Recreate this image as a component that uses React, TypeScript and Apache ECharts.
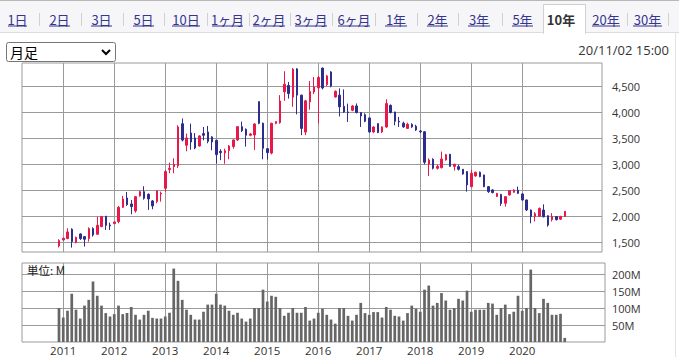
import React, { useEffect, useRef } from 'react';
import * as echarts from 'echarts';

// Monthly bars, Dec 2010 .. Nov 2020
const months: string[] = Array.from({ length: 120 }, (_, i) => {
  const m = 11 + i;
  const y = 2010 + Math.floor(m / 12);
  return `${y}-${String((m % 12) + 1).padStart(2, '0')}`;
});

const opens = [
  1430, 1545, 1571, 1750, 1494, 1660, 1609, 1571, 1763, 1654, 1801, 2000, 1830,
  1859, 1897, 2173, 2353, 2237, 2103, 2391, 2474, 2423, 2295, 2282, 2430,
  2538, 2900, 2955, 2970, 3780, 3365, 3602, 3506, 3352, 3590, 3622, 3526,
  3461, 3250, 3220, 3263, 3340, 3468, 3724, 3673, 3558, 3564, 4205, 3790,
  3300, 3215, 3788, 3801, 4395, 4515, 4290, 4835, 4330, 3620, 4200, 4391,
  4470, 4850, 4532, 4776, 4295, 4330, 4115, 4006, 4038, 4122, 3994, 3955,
  3891, 3622, 3782, 3622, 3718, 4134, 4006, 3827, 3790, 3690, 3765, 3730,
  3640, 3625, 3006, 3096, 2923, 2935, 3083, 3192, 2960, 2955, 2904, 2859,
  2570, 2776, 2846, 2795, 2570, 2506, 2380, 2420, 2250, 2410, 2462, 2500,
  2430, 2314, 2120, 2000, 2000, 2120, 2010, 1935, 1995, 1945, 1995,
];
const closes = [
  1532, 1577, 1699, 1513, 1596, 1571, 1558, 1763, 1641, 1827, 1994, 1827, 1814,
  1891, 2173, 2333, 2224, 2186, 2378, 2474, 2346, 2333, 2199, 2487, 2442,
  2859, 2923, 3000, 3718, 3465, 3506, 3429, 3314, 3545, 3558, 3442, 3429,
  3186, 3224, 3260, 3352, 3468, 3724, 3647, 3558, 3583, 3776, 3788, 3308,
  3224, 3788, 3820, 4218, 4540, 4360, 4830, 4330, 3690, 4220, 4400, 4487,
  4670, 4468, 4699, 4506, 4404, 4105, 4005, 3994, 4122, 3994, 3929, 3827,
  3622, 3718, 3609, 3718, 4167, 3994, 3827, 3814, 3720, 3770, 3720, 3660,
  3625, 3040, 3083, 2923, 2960, 3100, 3185, 2960, 3000, 2904, 2814, 2603,
  2827, 2846, 2763, 2570, 2474, 2455, 2440, 2245, 2378, 2494, 2506, 2442,
  2314, 2122, 1994, 2050, 2150, 1990, 1830, 1995, 1935, 1995, 2095,
];
const lows = [
  1400, 1530, 1560, 1397, 1481, 1545, 1417, 1513, 1609, 1640, 1790, 1737, 1737,
  1850, 1865, 2160, 2200, 2038, 2070, 2380, 2320, 2122, 2135, 2250, 2282,
  2474, 2827, 2827, 2930, 3440, 3250, 3280, 3290, 3340, 3461, 3404, 3270,
  3013, 3080, 3010, 3096, 3300, 3450, 3620, 3340, 3540, 3276, 3770, 3096,
  3090, 3190, 3770, 3780, 4220, 4263, 4105, 3960, 3560, 3560, 4050, 4350,
  3785, 4440, 4500, 4480, 4280, 3920, 3990, 3814, 4020, 3980, 3718, 3810,
  3610, 3600, 3600, 3600, 3700, 3980, 3750, 3718, 3700, 3680, 3700, 3640,
  3600, 3000, 2776, 2900, 2900, 2920, 3070, 2950, 2880, 2880, 2800, 2474,
  2560, 2760, 2750, 2560, 2450, 2440, 2370, 2200, 2186, 2400, 2450, 2430,
  2300, 2100, 1865, 1900, 1990, 1980, 1800, 1900, 1920, 1930, 1990,
];
const highs = [
  1558, 1590, 1769, 1769, 1609, 1673, 1620, 1788, 1788, 1994, 2006, 2006, 1878,
  1900, 2199, 2391, 2468, 2314, 2391, 2494, 2577, 2440, 2314, 2500, 2474,
  2891, 3032, 3115, 3750, 3880, 3590, 3782, 3600, 3560, 3718, 3737, 3540,
  3470, 3290, 3300, 3370, 3480, 3730, 3820, 3690, 3600, 3790, 4210, 3800,
  3310, 3800, 3830, 4330, 4790, 4583, 4850, 4850, 4340, 4240, 4600, 4680,
  4700, 4860, 4720, 4790, 4420, 4460, 4440, 4167, 4140, 4170, 4000, 3980,
  3900, 3730, 3790, 3730, 4250, 4150, 4010, 3910, 3820, 3800, 3790, 3760,
  3660, 3640, 3115, 3115, 2990, 3244, 3200, 3200, 3010, 2990, 2910, 2870,
  2891, 2860, 2860, 2800, 2580, 2520, 2450, 2430, 2390, 2500, 2520, 2570,
  2440, 2320, 2130, 2080, 2170, 2230, 2020, 2060, 2000, 2010, 2100,
];
// volume, millions of shares
const volumes = [
  100, 72, 92, 142, 95, 69, 107, 124, 178, 136, 107, 85, 75,
  82, 107, 82, 85, 103, 80, 66, 80, 92, 71, 69, 69,
  75, 86, 216, 180, 124, 95, 80, 66, 66, 89, 110, 110,
  142, 110, 107, 92, 80, 86, 69, 60, 69, 100, 100, 154,
  119, 136, 133, 100, 77, 86, 100, 86, 86, 103, 63, 69,
  86, 98, 80, 66, 54, 100, 100, 77, 63, 80, 115, 85,
  80, 88, 88, 72, 103, 95, 77, 75, 63, 85, 107, 98,
  89, 154, 166, 107, 115, 144, 122, 95, 100, 127, 122, 151,
  89, 95, 95, 95, 115, 113, 80, 100, 110, 82, 89, 136,
  92, 100, 213, 100, 85, 127, 115, 80, 80, 83, 12,
];

const yearLabels = ['2011', '2012', '2013', '2014', '2015', '2016', '2017', '2018', '2019', '2020'];
const yearTicks = yearLabels.map((y) => months.indexOf(`${y}-01`));
const priceTicks = [1500, 2000, 2500, 3000, 3500, 4000, 4500];
const volumeTicks = [50, 100, 150, 200];

const tabLabels = ['1日', '2日', '3日', '5日', '10日', '1ヶ月', '2ヶ月', '3ヶ月', '6ヶ月', '1年', '2年', '3年', '5年', '10年', '20年', '30年'];
const activeTab = '10年';
const periodLabel = '月足';
const timestamp = '20/11/02 15:00';
const unitLabel = '単位: M';

// layout of the page chrome (pixels)
const tabSpans = [
  [8, 27], [49, 70], [91, 112], [133, 154], [172, 200], [212, 243], [253, 285], [295, 327],
  [338, 370], [385, 407], [427, 448], [468, 490], [512, 533], [549, 573], [592, 620], [633, 662],
];
const sepXs = [39, 81, 123, 164, 207, 249, 290, 332, 375, 417, 458, 502, 627, 668];

const FONT_NUM = '"Open Sans", "DejaVu Sans", sans-serif';
const FONT_JP = '"Noto Sans CJK JP", "Noto Sans", sans-serif';
const UP = '#e8184b';
const DOWN = '#2d2d8c';
const GRID = '#9a9a9a';
const LINK = '#35358f';

export default function App() {
  const ref = useRef<HTMLDivElement>(null);
  useEffect(() => {
    if (!ref.current) return;
    const chart = echarts.init(ref.current, undefined, { renderer: 'svg' });

    const graphics: any[] = [];
    graphics.push({ type: 'rect', z: 0, shape: { x: 0, y: 0, width: 679, height: 32 }, style: { fill: '#f6f6f9' } });
    graphics.push({ type: 'line', shape: { x1: 0, y1: 0.5, x2: 679, y2: 0.5 }, style: { stroke: '#b8b8b8', lineWidth: 1 } });
    graphics.push({ type: 'line', shape: { x1: 0, y1: 32.5, x2: 679, y2: 32.5 }, style: { stroke: '#dcdcdc', lineWidth: 1 } });
    sepXs.forEach((x) => {
      graphics.push({ type: 'line', shape: { x1: x + 0.5, y1: 13, x2: x + 0.5, y2: 26 }, style: { stroke: '#d0d0d0', lineWidth: 1 } });
    });
    tabLabels.forEach((t, k) => {
      const [l, r] = tabSpans[k];
      const cx = (l + r) / 2;
      if (t === activeTab) {
        graphics.push({ type: 'rect', shape: { x: 543.5, y: 4.5, width: 42, height: 29 }, style: { fill: '#ffffff', stroke: '#d0d0d0', lineWidth: 1 } });
        graphics.push({ type: 'rect', shape: { x: 544, y: 32, width: 41, height: 2 }, style: { fill: '#ffffff' } });
        graphics.push({ type: 'text', x: cx, y: 19, style: { text: t, fill: '#333333', font: `bold 13px ${FONT_JP}`, textAlign: 'center', textVerticalAlign: 'middle' } });
      } else {
        graphics.push({ type: 'text', x: cx, y: 19, style: { text: t, fill: LINK, font: `13px ${FONT_JP}`, textAlign: 'center', textVerticalAlign: 'middle' } });
        graphics.push({ type: 'line', shape: { x1: l, y1: 26, x2: r, y2: 26 }, style: { stroke: LINK, lineWidth: 1 } });
      }
    });
    // select box
    graphics.push({ type: 'rect', shape: { x: 6.5, y: 42.5, width: 109, height: 19, r: 2 }, style: { fill: '#fff', stroke: '#767676', lineWidth: 1 } });
    graphics.push({ type: 'text', x: 10, y: 52, style: { text: periodLabel, fill: '#000', font: `14px ${FONT_JP}`, textAlign: 'left', textVerticalAlign: 'middle' } });
    graphics.push({ type: 'polyline', shape: { points: [[102, 50], [106, 54], [110, 50]] }, style: { stroke: '#000', lineWidth: 2, fill: 'none' } });
    graphics.push({ type: 'text', x: 669, y: 50, style: { text: timestamp, fill: '#333', font: `13px ${FONT_NUM}`, textAlign: 'right', textVerticalAlign: 'middle' } });
    graphics.push({ type: 'line', shape: { x1: 675.5, y1: 33, x2: 675.5, y2: 357 }, style: { stroke: '#e2e2e2', lineWidth: 1 } });
    graphics.push({ type: 'text', z: 10, x: 27, y: 270, style: { text: unitLabel, fill: '#222', font: `11.5px ${FONT_JP}`, textAlign: 'left', textVerticalAlign: 'middle' } });

    const candleData = months.map((_, i) => [i, opens[i], closes[i], lows[i], highs[i]]);
    const volData = months.map((_, i) => [i, volumes[i]]);

    chart.setOption({
      animation: false,
      backgroundColor: '#ffffff',
      textStyle: { fontFamily: FONT_NUM },
      grid: [
        { left: 22, top: 63, width: 580, height: 189, show: true, borderColor: GRID, borderWidth: 1, backgroundColor: 'transparent' },
        { left: 22, top: 263, width: 583, height: 79, show: true, borderColor: GRID, borderWidth: 1, backgroundColor: 'transparent' },
      ],
      xAxis: [
        {
          type: 'value', gridIndex: 0, min: -8.706, max: 127.76,
          axisLine: { show: false },
          axisTick: { show: false, customValues: yearTicks },
          axisLabel: { show: false, customValues: yearTicks },
          splitLine: { show: true, lineStyle: { color: GRID, width: 1 } },
        },
        {
          type: 'value', gridIndex: 1, min: -8.706, max: 128.47,
          axisLine: { show: false },
          axisTick: { show: false, customValues: yearTicks },
          axisLabel: {
            show: true, customValues: yearTicks, color: '#333', fontSize: 11.5, lineHeight: 12, fontFamily: FONT_NUM, margin: 2,
            formatter: (v: number) => { const k = yearTicks.indexOf(Math.round(v)); return k >= 0 ? yearLabels[k] : ''; },
          },
          splitLine: { show: true, lineStyle: { color: GRID, width: 1 } },
        },
      ],
      yAxis: [
        {
          type: 'value', gridIndex: 0, position: 'right', min: 1313, max: 4948, scale: true,
          axisLine: { show: false },
          axisTick: { show: true, length: 4, customValues: priceTicks, lineStyle: { color: GRID } },
          axisLabel: {
            customValues: priceTicks, color: '#333', fontSize: 11, fontFamily: FONT_NUM, margin: 10,
            formatter: (v: number) => v.toLocaleString('en-US'),
          },
          splitLine: { show: true, lineStyle: { color: GRID, width: 1 } },
        },
        {
          type: 'value', gridIndex: 1, position: 'right', min: 0, max: 232.4,
          axisLine: { show: false },
          axisTick: { show: true, length: 4, customValues: volumeTicks, lineStyle: { color: GRID } },
          axisLabel: {
            customValues: volumeTicks, color: '#333', fontSize: 11, fontFamily: FONT_NUM, margin: 7,
            formatter: (v: number) => `${v}M`,
          },
          splitLine: { show: true, lineStyle: { color: GRID, width: 1 } },
        },
      ],
      series: [
        {
          type: 'candlestick', xAxisIndex: 0, yAxisIndex: 0,
          data: candleData,
          encode: { x: 0, y: [1, 2, 3, 4] },
          barWidth: 2,
          itemStyle: { color: UP, color0: DOWN, borderColor: UP, borderColor0: DOWN, borderWidth: 1 },
        },
        {
          type: 'bar', xAxisIndex: 1, yAxisIndex: 1,
          data: volData,
          encode: { x: 0, y: 1 },
          barWidth: 2.7,
          itemStyle: { color: '#666666' },
        },
      ],
      graphic: { elements: graphics },
    });
    return () => chart.dispose();
  }, []);
  return (
    <div style={{ position: 'absolute', left: 0, top: 0, width: 679, height: 357, background: '#fff' }}>
      <div ref={ref} style={{ width: 679, height: 357 }} />
    </div>
  );
}
